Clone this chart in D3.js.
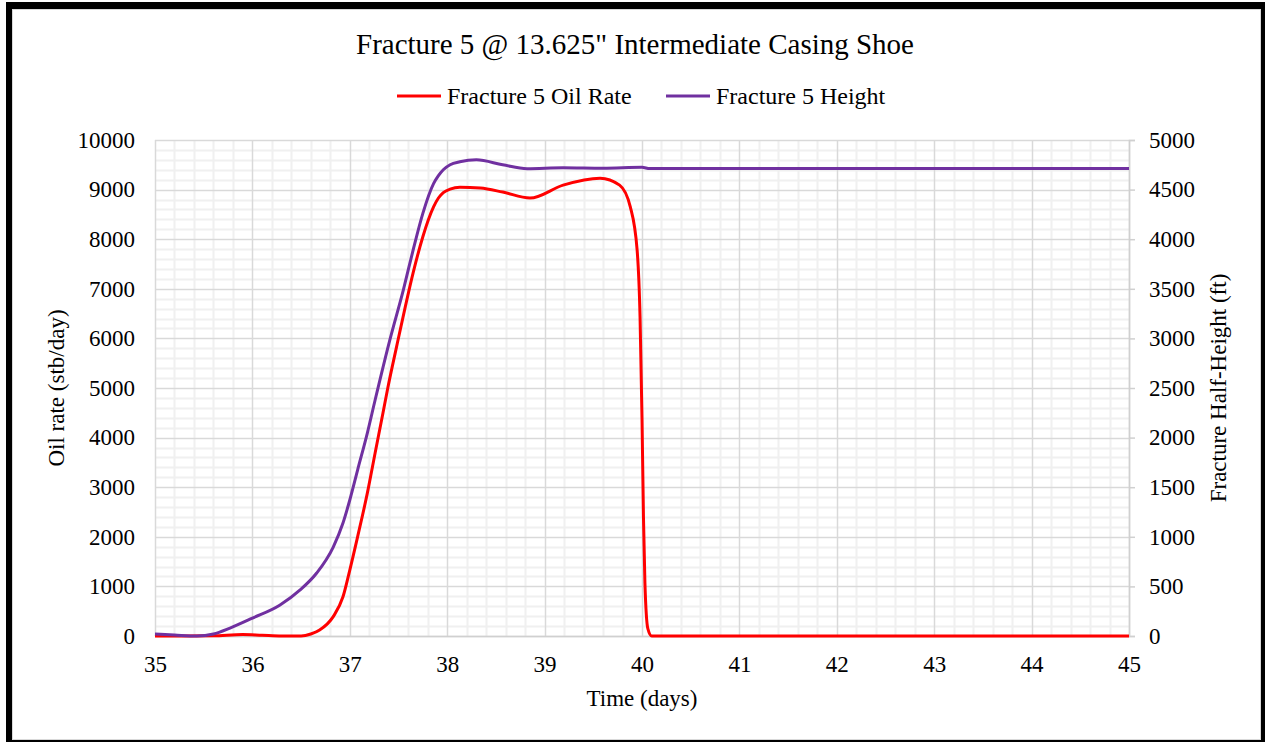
<!DOCTYPE html>
<html>
<head>
<meta charset="utf-8">
<script src="https://cdn.jsdelivr.net/npm/d3@7"></script>
<style>
  body { margin: 0; background: #fff; }
  svg { display: block; font-family: "Liberation Serif", "Times New Roman", serif; }
</style>
</head>
<body>
<svg></svg>
<script>
// oil rate series (left axis)
let oilTime = [35.0, 35.3, 35.6, 35.9, 36.1, 36.3, 36.5, 36.6, 36.69, 36.83, 36.93, 37.0, 37.08, 37.18, 37.26, 37.34,
    37.39, 37.48, 37.57, 37.65, 37.75, 37.86, 37.91, 37.96, 38.03, 38.13, 38.34, 38.57, 38.85, 39.19, 39.57, 39.77, 39.88, 39.95,
    39.98, 40.0, 40.015, 40.03, 40.06, 40.1, 41, 42, 43, 44, 45]
let oilRate = [0, 0, 5, 30, 15, 0, 0, 40, 120, 390, 790, 1330, 2000, 2880, 3690, 4490,
    5000, 5830, 6640, 7320, 8050, 8650, 8830, 8940, 9010, 9045, 9030, 8950, 8830, 9090, 9230, 9090, 8650, 7780,
    6430, 4400, 2400, 1070, 150, 0, 0, 0, 0, 0, 0]

// fracture half-height series (right axis)
let heightTime = [35.0, 35.2, 35.43, 35.6, 35.77, 36.0, 36.28, 36.49, 36.66, 36.83, 36.93, 37.0, 37.08, 37.18, 37.26,
    37.41, 37.55, 37.65, 37.75, 37.86, 37.91, 37.96, 38.03, 38.13, 38.3, 38.57, 38.82, 39.19, 39.6, 40.0, 40.08, 41, 42, 43, 44, 45]
let fracHeight = [20, 10, 0, 20, 80, 180, 310, 464, 635, 897, 1139, 1371, 1673, 2046, 2379,
    2980, 3490, 3890, 4260, 4560, 4640, 4700, 4750, 4780, 4800, 4750, 4710, 4720, 4715, 4725, 4712, 4712, 4712, 4712, 4712, 4712]

let xTicks = [35, 36, 37, 38, 39, 40, 41, 42, 43, 44, 45]
let leftTicks = [0, 1000, 2000, 3000, 4000, 5000, 6000, 7000, 8000, 9000, 10000]
let rightTicks = [0, 500, 1000, 1500, 2000, 2500, 3000, 3500, 4000, 4500, 5000]

let seriesNames = ['Fracture 5 Oil Rate', 'Fracture 5 Height']
let seriesColors = ['#ff0000', '#7030a0']

let width = 1265
let height = 742
let plot = { left: 155, right: 1129, top: 140, bottom: 636 }

let svg = d3.select('svg').attr('width', width).attr('height', height)

// frame
svg.append('rect').attr('x', 6).attr('y', 2).attr('width', width - 6).attr('height', height - 2).attr('fill', '#000')
svg.append('rect').attr('x', 12.5).attr('y', 9.5).attr('width', 1248).attr('height', 730)
    .attr('fill', '#fff').attr('stroke', '#d9d9d9')

let xScale = d3.scaleLinear().domain([35, 45]).range([plot.left, plot.right])
let yLeft = d3.scaleLinear().domain([0, 10000]).range([plot.bottom, plot.top])
let yRight = d3.scaleLinear().domain([0, 5000]).range([plot.bottom, plot.top])

// minor grid
let minorX = d3.range(35, 45.001, 0.2).filter(v => Math.abs(v - Math.round(v)) > 0.01)
let minorY = d3.range(0, 10001, 200).filter(v => v % 1000 != 0)

let grid = svg.append('g')
grid.selectAll('.mx').data(minorX).enter().append('line')
    .attr('x1', d => Math.round(xScale(d)) + 0.5).attr('x2', d => Math.round(xScale(d)) + 0.5)
    .attr('y1', plot.top).attr('y2', plot.bottom)
    .attr('stroke', '#f0f0f0').attr('stroke-width', 2)
grid.selectAll('.my').data(minorY).enter().append('line')
    .attr('x1', plot.left).attr('x2', plot.right)
    .attr('y1', d => Math.round(yLeft(d)) + 0.5).attr('y2', d => Math.round(yLeft(d)) + 0.5)
    .attr('stroke', '#f0f0f0').attr('stroke-width', 2)

// major grid
grid.selectAll('.gx').data(xTicks).enter().append('line')
    .attr('x1', d => Math.round(xScale(d)) + 0.5).attr('x2', d => Math.round(xScale(d)) + 0.5)
    .attr('y1', plot.top).attr('y2', plot.bottom)
    .attr('stroke', '#d9d9d9').attr('stroke-width', 1.5)
grid.selectAll('.gy').data(leftTicks).enter().append('line')
    .attr('x1', plot.left).attr('x2', plot.right)
    .attr('y1', d => Math.round(yLeft(d)) + 0.5).attr('y2', d => Math.round(yLeft(d)) + 0.5)
    .attr('stroke', '#d9d9d9').attr('stroke-width', 1.5)

// axes
let xAxis = d3.axisBottom(xScale).tickValues(xTicks).tickSize(0).tickPadding(20).tickFormat(d3.format('d'))
let leftAxis = d3.axisLeft(yLeft).tickValues(leftTicks).tickSize(0).tickPadding(20).tickFormat(d3.format('d'))
let rightAxis = d3.axisRight(yRight).tickValues(rightTicks).tickSize(6).tickPadding(14).tickFormat(d3.format('d'))

let styleAxis = (g) => {
    g.attr('font-family', null)
    g.select('.domain').attr('stroke', '#d0d0d0').attr('stroke-width', 1.5)
    g.selectAll('.tick line').attr('stroke', '#d0d0d0').attr('stroke-width', 1.5)
    g.selectAll('text').attr('font-size', 23).attr('fill', '#000')
}

svg.append('g').attr('transform', 'translate(0,' + plot.bottom + ')').call(xAxis).call(styleAxis)
svg.append('g').attr('transform', 'translate(' + plot.left + ',0)').call(leftAxis).call(styleAxis)
    .select('.domain').remove()
svg.append('g').attr('transform', 'translate(' + plot.right + ',0)').call(rightAxis).call(styleAxis)

// lines
let oilLine = d3.line().x((d, i) => xScale(oilTime[i])).y(d => yLeft(d)).curve(d3.curveMonotoneX)
let heightLine = d3.line().x((d, i) => xScale(heightTime[i])).y(d => yRight(d)).curve(d3.curveMonotoneX)

svg.append('path').datum(oilRate).attr('d', oilLine)
    .attr('fill', 'none').attr('stroke', seriesColors[0]).attr('stroke-width', 3)
svg.append('path').datum(fracHeight).attr('d', heightLine)
    .attr('fill', 'none').attr('stroke', seriesColors[1]).attr('stroke-width', 3)

// titles
svg.append('text').attr('x', 635).attr('y', 54).attr('text-anchor', 'middle')
    .attr('font-size', 29).text('Fracture 5 @ 13.625" Intermediate Casing Shoe')

svg.append('text').attr('x', 642).attr('y', 706).attr('text-anchor', 'middle')
    .attr('font-size', 23).text('Time (days)')

svg.append('text').attr('transform', 'translate(64,388) rotate(-90)').attr('text-anchor', 'middle')
    .attr('font-size', 23).text('Oil rate (stb/day)')

svg.append('text').attr('transform', 'translate(1226,388) rotate(-90)').attr('text-anchor', 'middle')
    .attr('font-size', 23).text('Fracture Half-Height (ft)')

// legend
let legendX = [397, 666]
let legend = svg.selectAll('.legend').data(seriesNames).enter().append('g')
    .attr('transform', (d, i) => 'translate(' + legendX[i] + ',96)')
legend.append('line').attr('x1', 0).attr('x2', 44).attr('y1', 0).attr('y2', 0)
    .attr('stroke', (d, i) => seriesColors[i]).attr('stroke-width', 3)
legend.append('text').attr('x', 50).attr('y', 8).attr('font-size', 24).text(d => d)
</script>
</body>
</html>
